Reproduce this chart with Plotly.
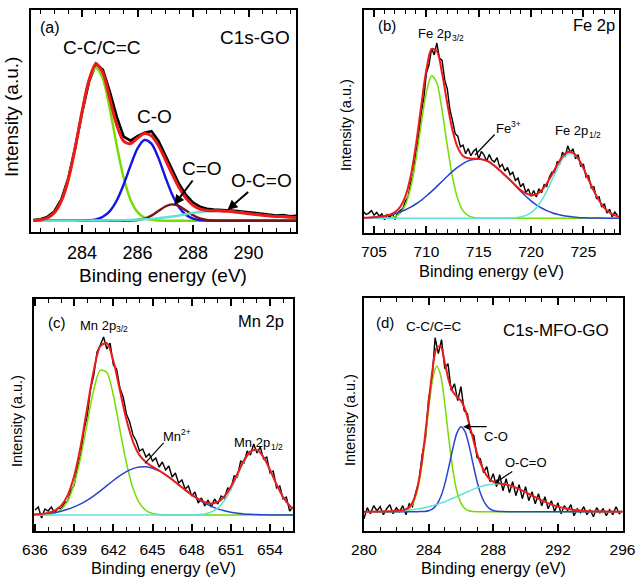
import plotly.graph_objects as go

# ---------------- DATA ----------------
# (a) C1s-GO
a_energy = [282.25, 282.5, 282.75, 283.0, 283.25, 283.5, 283.75, 284.0, 284.25, 284.5, 284.75, 285.0, 285.25,
            285.5, 285.75, 286.0, 286.25, 286.5, 286.75, 287.0, 287.25, 287.5, 287.75, 288.0, 288.25, 288.5,
            288.75, 289.0, 289.25, 289.5, 289.75, 290.0, 290.25, 290.5, 290.75, 291.0, 291.25, 291.5, 291.75]
a_data = [0.6, 1.5, 3.8, 9.2, 21, 42, 73, 108, 139, 157, 151, 129, 104, 84, 80, 84.5, 88, 89.5, 80, 65.5, 50,
          36.5, 25.5, 18, 14, 12, 11.2, 11, 10.6, 10, 9.2, 8.4, 7.8, 6.6, 6.3, 5.2, 5.6, 4.3, 4.9]
a_cc = [0.2, 0.8, 2.7, 7.9, 19.5, 40.7, 72.3, 109, 140, 153, 142, 112, 75.1, 42.8, 20.8, 8.6, 3.0, 0.9, 0.2,
        0, 0, 0, 0, 0, 0, 0, 0, 0, 0, 0, 0, 0, 0, 0, 0, 0, 0, 0, 0]
a_co = [0, 0, 0, 0, 0, 0, 0, 0.1, 0.4, 1.4, 3.9, 9.6, 20.2, 36.2, 55.3, 72.3, 80.7, 77, 62.8, 43.7, 26, 13.2,
        5.7, 2.1, 0.7, 0.2, 0, 0, 0, 0, 0, 0, 0, 0, 0, 0, 0, 0, 0]
a_c_eq_o = [0, 0, 0, 0, 0, 0, 0, 0, 0, 0, 0, 0, 0, 0, 0.2, 0.7, 2.1, 5.1, 9.7, 14.2, 16.3, 14.5, 10.1, 5.5,
            2.3, 0.7, 0.2, 0, 0, 0, 0, 0, 0, 0, 0, 0, 0, 0, 0]
a_oco = [0, 0, 0, 0, 0, 0, 0, 0.1, 0.1, 0.2, 0.2, 0.3, 0.4, 0.6, 0.8, 1.1, 1.4, 1.8, 2.5, 3.3, 4.2, 5.2, 6.5,
         7.8, 8.7, 9.4, 9.7, 9.8, 9.4, 8.8, 7.9, 7.0, 6.2, 5.4, 4.8, 4.3, 3.9, 3.5, 3.2]
a_fit = [0.2, 0.8, 2.7, 7.9, 19.5, 40.7, 72.3, 109.2, 140.5, 157, 148, 122, 95.7, 79.6, 77.1, 82.7, 87.2, 84.8,
         75.2, 61.2, 46.5, 32.9, 22.3, 15.4, 11.7, 10.3, 9.9, 9.8, 9.4, 8.8, 7.9, 7.0, 6.2, 5.4, 4.8, 4.3, 3.9,
         3.5, 3.2]

# (b) Fe 2p
b_fit_energy = [704.04, 705, 705.5, 706, 706.5, 707, 707.5, 708, 708.5, 709, 709.5, 710, 710.5, 711, 711.5,
                712, 712.5, 713, 713.5, 714, 714.5, 715, 715.5, 716, 716.5, 717, 717.5, 718, 718.5, 719, 719.5,
                720, 720.5, 721, 721.5, 722, 722.5, 723, 723.5, 724, 724.5, 725, 725.5, 726, 726.5, 727, 727.5,
                728, 728.4]
b_fe2p32 = [0, 0, 0, 0.1, 0.4, 1.6, 5.1, 13.7, 30.9, 58.8, 94, 126.2, 142.5, 135.3, 108, 72.4, 40.9, 19.4, 7.7,
            2.6, 0.7, 0.2, 0, 0, 0, 0, 0, 0, 0, 0, 0, 0, 0, 0, 0, 0, 0, 0, 0, 0, 0, 0, 0, 0, 0, 0, 0, 0, 0]
b_fe3 = [0.5, 1.1, 1.6, 2.3, 3.3, 4.6, 6.3, 8.5, 11.1, 14.3, 18, 22.3, 26.9, 31.9, 37, 42.1, 46.9, 51.2, 54.7,
         57.4, 58.9, 59.3, 58.4, 56.4, 52.5, 48, 43, 38, 32.5, 27, 22, 17.5, 13.5, 10.3, 7.7, 5.6, 4, 2.9, 2,
         1.4, 0.9, 0.6, 0.4, 0.3, 0.2, 0.1, 0.1, 0, 0]
b_fe2p12 = [0, 0, 0, 0, 0, 0, 0, 0, 0, 0, 0, 0, 0, 0, 0, 0, 0, 0, 0, 0, 0, 0, 0, 0, 0, 0, 0, 0.2, 0.6, 1.3, 2.9,
            5.7, 10.4, 17.6, 27.1, 38.3, 49.6, 59, 64.3, 64.3, 59, 49.6, 38.3, 27.1, 17.6, 10.4, 5.7, 2.9, 1.6]
b_fit = [0.5, 1.1, 1.6, 2.4, 3.7, 6.2, 11.4, 22.2, 42, 73.1, 112, 148.5, 169.4, 167.2, 145, 114.5, 87.8, 70.6,
         62.4, 60, 59.6, 59.5, 58.4, 56.4, 52.5, 48, 43, 38.2, 33.1, 28.3, 24.9, 23.2, 23.9, 27.9, 34.8, 43.9,
         53.6, 61.9, 66.3, 65.7, 59.9, 50.2, 38.7, 27.4, 17.8, 10.5, 5.8, 2.9, 1.6]
b_energy = [704.0, 704.25, 704.5, 704.75, 705.0, 705.25, 705.5, 705.75, 706.0, 706.25, 706.5, 706.75, 707.0,
            707.25, 707.5, 707.75, 708.0, 708.25, 708.5, 708.75, 709.0, 709.25, 709.5, 709.75, 710.0, 710.25,
            710.5, 710.75, 711.0, 711.25, 711.5, 711.75, 712.0, 712.25, 712.5, 712.75, 713.0, 713.25, 713.5,
            713.75, 714.0, 714.25, 714.5, 714.75, 715.0, 715.25, 715.5, 715.75, 716.0, 716.25, 716.5, 716.75,
            717.0, 717.25, 717.5, 717.75, 718.0, 718.25, 718.5, 718.75, 719.0, 719.25, 719.5, 719.75, 720.0,
            720.25, 720.5, 720.75, 721.0, 721.25, 721.5, 721.75, 722.0, 722.25, 722.5, 722.75, 723.0, 723.25,
            723.5, 723.75, 724.0, 724.25, 724.5, 724.75, 725.0, 725.25, 725.5, 725.75, 726.0, 726.25, 726.5,
            726.75, 727.0, 727.25, 727.5, 727.75, 728.0, 728.25]
b_data = [6.5, 3.8, 5.2, 7.6, 3.1, 5.9, 2.2, 4.4, -1.5, 3.6, 0.8, 4.9, -1.2, 5.5, 7.8, 9.6, 17.2, 21.5, 35.1,
          44.8, 66.3, 81.2, 104.6, 119.8, 145.2, 153.5, 170.1, 163.4, 175.3, 160.2, 157.9, 138.4, 129.1, 108.3,
          97.5, 84.6, 82.1, 71.4, 73.2, 64.5, 69.8, 62.6, 67.1, 69.4, 59.2, 66.8, 63.5, 57.1, 63.9, 58.2, 56.4,
          60.7, 51.3, 53.9, 47.2, 50.8, 43.5, 46.1, 37.9, 40.3, 31.6, 34.8, 25.7, 29.4, 22.1, 27.8, 21.3, 29.5,
          25.6, 33.7, 31.9, 41.4, 46.2, 45.7, 56.8, 54.2, 66.1, 61.3, 72.5, 65.8, 69.5, 59.4, 63.7, 51.6, 54.3,
          41.2, 42.6, 30.1, 31.5, 19.8, 21.4, 11.2, 14.6, 5.3, 9.1, 1.4, 6.2, 2.8]

# (c) Mn 2p
c_fit_energy = [635.92, 636, 636.5, 637, 637.5, 638, 638.5, 639, 639.5, 640, 640.5, 641, 641.5, 642, 642.5,
                643, 643.5, 644, 644.5, 645, 645.5, 646, 646.5, 647, 647.5, 648, 648.5, 649, 649.5, 650, 650.5,
                651, 651.5, 652, 652.5, 653, 653.5, 654, 654.5, 655, 655.5, 655.76]
c_mn2p32 = [0, 0, 0.1, 0.5, 1.8, 5.5, 14.2, 31.1, 58.2, 92.5, 125.4, 144.8, 142.5, 119.5, 85.4, 52, 27, 11.9,
            4.5, 1.5, 0.4, 0.1, 0, 0, 0, 0, 0, 0, 0, 0, 0, 0, 0, 0, 0, 0, 0, 0, 0, 0, 0, 0]
c_mn2 = [0.5, 0.6, 1.0, 1.6, 2.5, 3.8, 5.7, 8.1, 11.1, 14.8, 19.2, 24.1, 29.3, 34.5, 39.3, 43.4, 46.4, 48, 48.2,
         46.8, 44.1, 40.2, 35.5, 30.3, 25.1, 20.2, 15.7, 11.8, 8.6, 6.1, 4.2, 2.8, 1.8, 1.1, 0.7, 0.4, 0.2, 0.1,
         0.1, 0, 0, 0]
c_mn2p12 = [0, 0, 0, 0, 0, 0, 0, 0, 0, 0, 0, 0, 0, 0, 0, 0, 0, 0, 0, 0, 0, 0, 0, 0, 0, 0.1, 0.4, 1.1, 3.0, 7.0,
            14.3, 25.4, 39.4, 53.3, 62.9, 64.7, 57.8, 45, 30.5, 18, 9.2, 6.2]
c_fit = [0.5, 0.6, 1.1, 2.1, 4.3, 9.3, 19.9, 39.2, 69.3, 107.3, 144.6, 168.9, 171.8, 154, 124.7, 95.4, 73.4,
         59.9, 52.7, 48.3, 44.5, 40.3, 35.5, 30.3, 25.1, 20.3, 16.1, 12.9, 11.6, 13.1, 18.5, 28.2, 41.2, 54.4,
         63.6, 65.1, 58, 45.1, 30.6, 18, 9.2, 6.2]
c_energy = [636.0, 636.25, 636.5, 636.75, 637.0, 637.25, 637.5, 637.75, 638.0, 638.25, 638.5, 638.75, 639.0,
            639.25, 639.5, 639.75, 640.0, 640.25, 640.5, 640.75, 641.0, 641.25, 641.5, 641.75, 642.0, 642.25,
            642.5, 642.75, 643.0, 643.25, 643.5, 643.75, 644.0, 644.25, 644.5, 644.75, 645.0, 645.25, 645.5,
            645.75, 646.0, 646.25, 646.5, 646.75, 647.0, 647.25, 647.5, 647.75, 648.0, 648.25, 648.5, 648.75,
            649.0, 649.25, 649.5, 649.75, 650.0, 650.25, 650.5, 650.75, 651.0, 651.25, 651.5, 651.75, 652.0,
            652.25, 652.5, 652.75, 653.0, 653.25, 653.5, 653.75, 654.0, 654.25, 654.5, 654.75, 655.0, 655.25,
            655.5, 655.75]
c_data = [5, 8, -3, 6, 4, 8, 2, 7, 6, 12, 14, 24, 30, 48, 60, 85, 99, 126, 140, 163, 170, 178, 166, 172, 150,
          146, 127, 118, 101, 93, 80, 74, 64, 66, 58, 61, 54, 57, 48, 53, 45, 49, 38, 42, 32, 35, 26, 29, 19,
          23, 12, 17, 9, 15, 8, 16, 11, 19, 17, 27, 26, 39, 38, 54, 52, 64, 60, 71, 62, 68, 56, 58, 42, 44, 27,
          29, 16, 18, 4, 8]

# (d) C1s-MFO-GO
d_fit_energy = [280, 281, 282, 282.25, 282.5, 282.75, 283, 283.25, 283.5, 283.75, 284, 284.25, 284.5, 284.75,
                285, 285.25, 285.5, 285.75, 286, 286.25, 286.5, 286.75, 287, 287.25, 287.5, 287.75, 288, 288.25,
                288.5, 289, 289.5, 290, 290.5, 291, 291.5, 292, 292.5, 293, 294, 295, 296]
d_cc = [0, 0, 0, 0.2, 0.7, 2.5, 7.3, 17.9, 37.7, 67.5, 102.6, 132.5, 145.6, 136, 108, 72.9, 41.9, 20.4, 8.5,
        3.0, 0.9, 0.2, 0, 0, 0, 0, 0, 0, 0, 0, 0, 0, 0, 0, 0, 0, 0, 0, 0, 0, 0]
d_co = [0, 0, 0, 0, 0, 0, 0, 0, 0.1, 0.3, 1.0, 2.9, 7.0, 14.9, 27.6, 44.8, 63.5, 78.6, 85, 80.3, 66.3, 47.8,
        30.1, 16.6, 8.0, 3.3, 1.2, 0.4, 0.1, 0, 0, 0, 0, 0, 0, 0, 0, 0, 0, 0, 0]
d_oco = [0, 0.2, 0.7, 0.9, 1.1, 1.5, 2.0, 2.6, 3.2, 4.0, 4.9, 6.0, 7.2, 8.6, 10.0, 11.7, 13.4, 15.2, 17.0, 18.8,
         20.6, 22.3, 23.9, 25.2, 26.4, 27.2, 27.8, 28.0, 27.9, 26.3, 23.4, 19.5, 15.3, 11.3, 7.8, 5.1, 3.1, 1.8,
         0.5, 0.1, 0]
d_fit = [0, 0.2, 0.7, 1.1, 1.8, 4.0, 9.3, 20.5, 41, 71.8, 108.5, 143, 164, 165, 149, 131, 120, 115, 111, 102.5,
         88.5, 73, 58, 47, 38.5, 33, 30, 28.7, 28, 26.3, 23.4, 19.5, 15.3, 11.3, 7.8, 5.1, 3.1, 1.8, 0.5, 0.1, 0]
d_energy = [280.0, 280.2, 280.4, 280.6, 280.8, 281.0, 281.2, 281.4, 281.6, 281.8, 282.0, 282.2, 282.4, 282.6,
            282.8, 283.0, 283.2, 283.4, 283.6, 283.8, 284.0, 284.2, 284.4, 284.6, 284.8, 285.0, 285.2, 285.4,
            285.6, 285.8, 286.0, 286.2, 286.4, 286.6, 286.8, 287.0, 287.2, 287.4, 287.6, 287.8, 288.0, 288.2,
            288.4, 288.6, 288.8, 289.0, 289.2, 289.4, 289.6, 289.8, 290.0, 290.2, 290.4, 290.6, 290.8, 291.0,
            291.2, 291.4, 291.6, 291.8, 292.0, 292.2, 292.4, 292.6, 292.8, 293.0, 293.2, 293.4, 293.6, 293.8,
            294.0, 294.2, 294.4, 294.6, 294.8, 295.0, 295.2, 295.4, 295.6, 295.8, 296.0]
d_data = [-7, 4, -2, 6, 1, 5, -3, 3, 7, -2, 4, 0, 6, -3, 8, 5, 19, 30, 57, 72, 113, 130, 174, 158, 172, 143, 148,
          121, 128, 111, 125, 101, 98, 79, 76, 54, 53, 39, 45, 30, 38, 25, 37, 21, 33, 19, 30, 16, 27, 13, 25,
          11, 20, 8, 18, 6, 15, 3, 11, 0, 9, -2, 6, 1, 7, -4, 3, -1, 5, -3, 2, -5, 4, -1, 3, -4, 2, -3, 5, -2, 1]

# ---------------- STYLE / LAYOUT ----------------
W, H = 638, 579
FONT = "Liberation Sans, Arial, sans-serif"
RED = "#ee1a1a"
GREEN = "#74dc00"
CYAN = "#5de3d6"
BROWN = "#7a1515"
BLUE_A = "#1414e6"
BLUE2 = "#2844cc"


def px(x):
    return x / W


def py(y):
    return 1 - y / H


panels = [
    dict(box=(31, 296, 10, 232), xr=[282.16, 291.71], yr=[-11.3, 210.7], tick0=284, dtick=2, minor=0.5,
         tf=18),
    dict(box=(364, 619, 10, 233), xr=[704.04, 728.4], yr=[-14.7, 208.3], tick0=705, dtick=5, minor=1,
         tf=15.5),
    dict(box=(34, 293, 299, 531), xr=[635.92, 655.76], yr=[-16, 216], tick0=636, dtick=3, minor=1,
         tf=15.5),
    dict(box=(364, 622.5, 298.3, 531), xr=[280, 296], yr=[-19.3, 213.4], tick0=280, dtick=4, minor=1,
         tf=15.5),
]

fig = go.Figure()
layout = dict(width=W, height=H, margin=dict(l=0, r=0, t=0, b=0, autoexpand=False), paper_bgcolor="white",
              plot_bgcolor="white", showlegend=False, font=dict(family=FONT, color="black"))

for i, p in enumerate(panels, start=1):
    x0, x1, y0, y1 = p["box"]
    sfx = "" if i == 1 else str(i)
    layout["xaxis" + sfx] = dict(
        domain=[px(x0), px(x1)], anchor="y" + sfx, range=p["xr"], automargin=False, showgrid=False,
        zeroline=False, showline=True, linecolor="black", linewidth=2, mirror="allticks", ticks="inside",
        ticklen=7, tickwidth=1.5, tickcolor="black", tick0=p["tick0"], dtick=p["dtick"],
        tickfont=dict(size=p["tf"], family=FONT, color="black"), ticklabelstandoff=3,
        minor=dict(dtick=p["minor"], ticks="inside", ticklen=4, tickwidth=1.2, tickcolor="black",
                   showgrid=False))
    layout["yaxis" + sfx] = dict(
        domain=[py(y1), py(y0)], anchor="x" + sfx, range=p["yr"], automargin=False, showgrid=False,
        zeroline=False, showline=True, linecolor="black", linewidth=2, mirror=True, ticks="",
        showticklabels=False)

fig.update_layout(**layout)


def add(xs, ys, color, width, ax):
    fig.add_trace(go.Scatter(x=xs, y=ys, mode="lines", line=dict(color=color, width=width, shape="spline",
                                                                  smoothing=0.8),
                             xaxis="x" + ax, yaxis="y" + ax, hoverinfo="skip"))


def add_raw(xs, ys, width, ax):
    fig.add_trace(go.Scatter(x=xs, y=ys, mode="lines", line=dict(color="black", width=width),
                             xaxis="x" + ax, yaxis="y" + ax, hoverinfo="skip"))


# (a)
add_raw(a_energy, a_data, 2.6, "")
add(a_energy, a_cc, GREEN, 2.4, "")
add(a_energy, a_co, BLUE_A, 2.4, "")
add(a_energy, a_c_eq_o, BROWN, 2.4, "")
add(a_energy, a_oco, CYAN, 2.4, "")
add(a_energy, a_fit, RED, 3.0, "")
# (b)
add_raw(b_energy, b_data, 1.4, "2")
add(b_fit_energy, b_fe2p32, GREEN, 1.5, "2")
add(b_fit_energy, b_fe3, BLUE2, 1.5, "2")
add(b_fit_energy, b_fe2p12, CYAN, 1.5, "2")
add(b_fit_energy, b_fit, RED, 2.0, "2")
# (c)
add_raw(c_energy, c_data, 1.4, "3")
add(c_fit_energy, c_mn2p32, GREEN, 1.5, "3")
add(c_fit_energy, c_mn2, BLUE2, 1.5, "3")
add(c_fit_energy, c_mn2p12, CYAN, 1.5, "3")
add(c_fit_energy, c_fit, RED, 2.0, "3")
# (d)
add_raw(d_energy, d_data, 1.4, "4")
add(d_fit_energy, d_cc, GREEN, 1.5, "4")
add(d_fit_energy, d_co, BLUE2, 1.5, "4")
add(d_fit_energy, d_oco, CYAN, 1.5, "4")
add(d_fit_energy, d_fit, RED, 2.0, "4")

ann = []


def text(t, x, y, size, angle=0, anchor="center", pad=1):
    ann.append(dict(text=t, x=px(x), y=py(y), xref="paper", yref="paper", showarrow=False,
                    xanchor=anchor, yanchor="middle", textangle=angle, borderpad=pad, borderwidth=0,
                    font=dict(size=size, family=FONT, color="black")))


def sublabel(main, small, xsplit, ymain, ysmall, size, small_size):
    # main text ends at xsplit, the raised / lowered index starts right there
    text(main, xsplit, ymain, size, anchor="right", pad=0)
    text(small, xsplit + 0.8, ysmall, small_size, anchor="left", pad=0)


def label_arrow(t, ax_id, x, y, dx, dy, size, head=2, width=1.5, hsize=1.0):
    # text centred at the arrow tail; arrow runs from the text to the data point (x, y)
    ann.append(dict(text=t, x=x, y=y, xref="x" + ax_id, yref="y" + ax_id, showarrow=True, ax=dx, ay=dy,
                    arrowhead=head, arrowwidth=width, arrowsize=hsize, arrowcolor="black",
                    font=dict(size=size, family=FONT, color="black")))


def line_arrow(ax_id, x, y, dx, dy, head=0, width=1.2, hsize=1.0):
    ann.append(dict(text="", x=x, y=y, xref="x" + ax_id, yref="y" + ax_id, showarrow=True, ax=dx, ay=dy,
                    arrowhead=head, arrowwidth=width, arrowsize=hsize, arrowcolor="black"))


# axis titles
text("Binding energy (eV)", 163.5, 276, 19)
text("Binding energy (eV)", 491.5, 271, 16.4)
text("Binding energy (eV)", 163.5, 568, 16.4)
text("Binding energy (eV)", 493, 568, 16.4)
text("Intensity (a.u.)", 11, 117, 19, -90)
text("Intensity (a.u.)", 346, 125, 14.5, -90)
text("Intensity (a.u.)", 17, 421, 14.5, -90)
text("Intensity (a.u.)", 350, 420, 14.5, -90)

# (a) labels
text("(a)", 50, 27.5, 16)
text("C1s-GO", 255, 37.5, 19)
text("C-C/C=C", 101.5, 47.5, 19)
text("C-O", 154.5, 116.5, 19)
label_arrow("C=O", "", 287.32, 15.7, 27.5, -36.5, 19, head=2, width=2)
label_arrow("O-C=O", "", 289.24, 10.7, 34.5, -30, 19, head=2, width=2)

# (b) labels
text("(b)", 387, 25, 15)
text("Fe 2p", 594, 25, 16.5)
sublabel("Fe 2p", "3/2", 451, 34, 38.5, 13, 8.5)
sublabel("Fe", "3+", 510.5, 128.5, 124.5, 13, 8.5)
line_arrow("2", 714.65, 63.3, 21, -22)
sublabel("Fe 2p", "1/2", 588, 130.5, 135, 13, 8.5)

# (c) labels
text("(c)", 57, 322.5, 15)
text("Mn 2p", 260.5, 321, 16.5)
sublabel("Mn 2p", "3/2", 115.5, 325, 329, 13, 8.5)
sublabel("Mn", "2+", 180.5, 436.5, 432, 13, 8.5)
line_arrow("3", 644.42, 51.7, 20, -22)
sublabel("Mn 2p", "1/2", 270, 442, 446.5, 13, 8.5)

# (d) labels
text("(d)", 385, 322.5, 15)
text("C-C/C=C", 433.5, 326, 13.5)
text("C1s-MFO-GO", 555.5, 330, 17)
text("C-O", 495.5, 436, 13)
line_arrow("4", 286.14, 85, 25, 0, head=2, width=1.3)
label_arrow("O-C=O", "4", 288.08, 28.4, 31.3, -20.8, 13, head=2, width=1.2, hsize=0.8)

fig.update_layout(annotations=ann)
fig.write_html("out.html")
